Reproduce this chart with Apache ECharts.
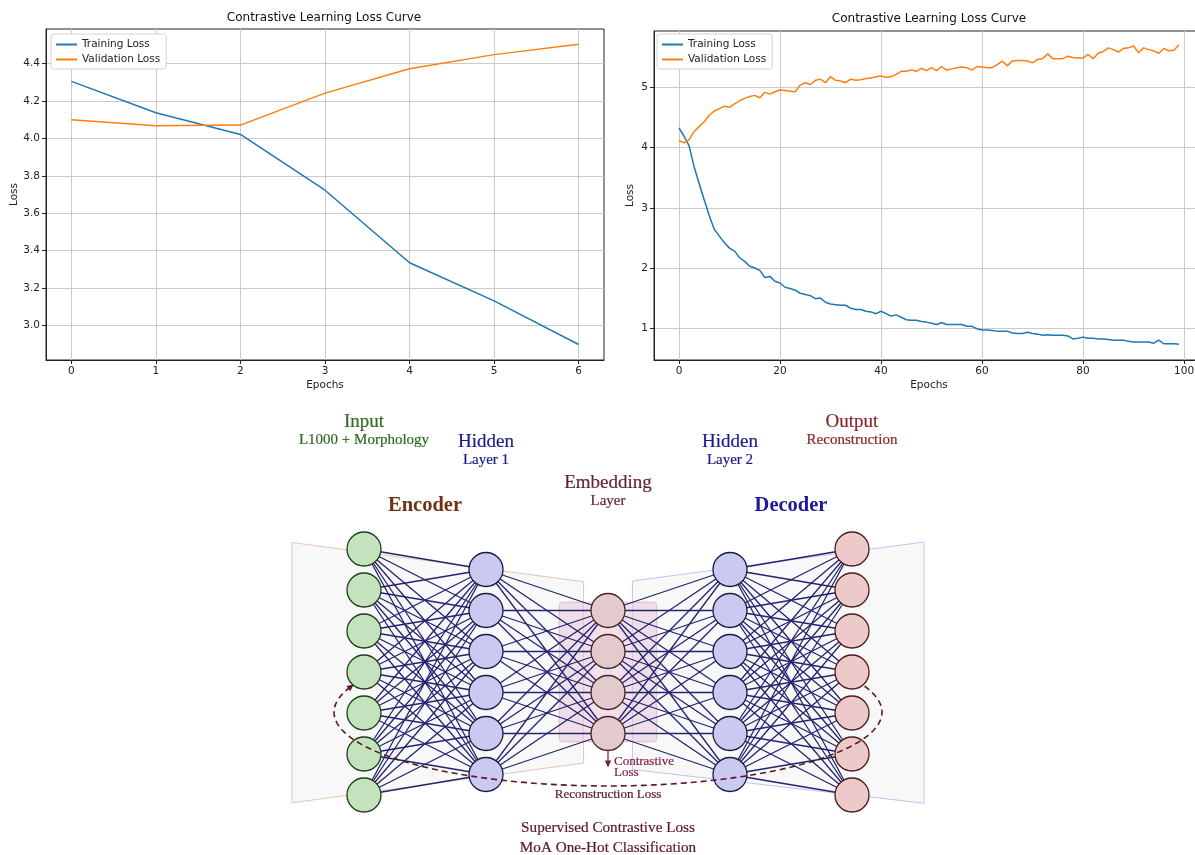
<!DOCTYPE html>
<html>
<head>
<meta charset="utf-8">
<title>Contrastive Learning Loss Curve</title>
<script src="https://cdn.jsdelivr.net/npm/echarts@6/dist/echarts.min.js"></script>
<style>
  html, body { margin: 0; padding: 0; background: #fff; }
  #chart { width: 1195px; height: 855px; }
</style>
</head>
<body>
<div id="chart"></div>
<script>
// short run (7 epochs)
const shortEpochs = [0, 1, 2, 3, 4, 5, 6];
const shortTrain = [4.305, 4.137, 4.021, 3.723, 3.335, 3.131, 2.898];
const shortVal = [4.100, 4.068, 4.071, 4.242, 4.372, 4.448, 4.504];
const shortTicksX = [0, 1, 2, 3, 4, 5, 6];
const shortTicksY = [3.0, 3.2, 3.4, 3.6, 3.8, 4.0, 4.2, 4.4];

// long run (100 epochs, index = epoch)
const longTrain = [
  4.33, 4.19, 4.03, 3.68, 3.40, 3.13, 2.87, 2.64, 2.53, 2.42,
  2.33, 2.28, 2.17, 2.11, 2.03, 2.00, 1.96, 1.84, 1.86, 1.78,
  1.75, 1.68, 1.66, 1.63, 1.58, 1.56, 1.54, 1.49, 1.50, 1.43,
  1.40, 1.39, 1.38, 1.38, 1.33, 1.31, 1.31, 1.28, 1.27, 1.24,
  1.28, 1.24, 1.20, 1.22, 1.18, 1.14, 1.13, 1.13, 1.11, 1.10,
  1.08, 1.06, 1.09, 1.06, 1.06, 1.06, 1.06, 1.03, 1.03, 0.99,
  0.97, 0.97, 0.96, 0.95, 0.95, 0.95, 0.92, 0.91, 0.91, 0.93,
  0.91, 0.90, 0.88, 0.89, 0.88, 0.88, 0.88, 0.87, 0.82, 0.83,
  0.85, 0.83, 0.83, 0.82, 0.82, 0.81, 0.80, 0.80, 0.80, 0.78,
  0.77, 0.77, 0.77, 0.77, 0.75, 0.80, 0.74, 0.74, 0.74, 0.73
];
const longVal = [
  4.12, 4.08, 4.13, 4.27, 4.35, 4.43, 4.54, 4.61, 4.65, 4.69,
  4.67, 4.73, 4.78, 4.82, 4.85, 4.87, 4.83, 4.92, 4.89, 4.93,
  4.96, 4.95, 4.94, 4.93, 5.04, 5.08, 5.05, 5.12, 5.14, 5.08,
  5.18, 5.12, 5.11, 5.08, 5.14, 5.12, 5.13, 5.15, 5.16, 5.18,
  5.19, 5.17, 5.18, 5.22, 5.27, 5.27, 5.29, 5.27, 5.32, 5.28,
  5.33, 5.28, 5.35, 5.29, 5.31, 5.33, 5.34, 5.33, 5.29, 5.35,
  5.34, 5.33, 5.33, 5.38, 5.44, 5.36, 5.44, 5.45, 5.45, 5.44,
  5.41, 5.47, 5.48, 5.56, 5.48, 5.48, 5.48, 5.52, 5.50, 5.49,
  5.49, 5.55, 5.48, 5.57, 5.60, 5.66, 5.63, 5.59, 5.65, 5.66,
  5.69, 5.58, 5.66, 5.63, 5.61, 5.57, 5.65, 5.61, 5.62, 5.71
];
const longTicksX = [0, 20, 40, 60, 80, 100];
const longTicksY = [1, 2, 3, 4, 5];

// autoencoder diagram
const layerTitles = ['Input', 'Hidden', 'Embedding', 'Hidden', 'Output'];
const layerSubtitles = ['L1000 + Morphology', 'Layer 1', 'Layer', 'Layer 2', 'Reconstruction'];
const layerSizes = [7, 6, 4, 6, 7];
const blockNames = ['Encoder', 'Decoder'];
const lossNotes = ['Contrastive\nLoss', 'Reconstruction Loss'];
const footerLines = ['Supervised Contrastive Loss', 'MoA One-Hot Classification'];

const BLUE = '#1f77b4', ORANGE = '#ff7f0e';
const SANS = 'DejaVu Sans', SERIF = 'Liberation Serif';
const nodeFill = ['#c3e2bd', '#c9c9f1', '#e2cace', '#c9c9f1', '#edcaca'];
const nodeStroke = ['#1f3f1b', '#1a1a48', '#472325', '#1a1a48', '#4a1c1c'];
const titleColor = ['#2e6b1e', '#1a1a8c', '#642236', '#1a1a8c', '#872626'];
const lossColor = '#5a1824';

const chart = echarts.init(document.getElementById('chart'));

function plotAxis(grid, ticks, fmt, extra) {
  return Object.assign({
    gridIndex: grid, type: 'value',
    axisLine: { show: true, onZero: false, lineStyle: { color: '#222', width: 1 } },
    axisTick: { show: true, length: 4, customValues: ticks, lineStyle: { color: '#222' } },
    axisLabel: { color: '#222', fontSize: 10.5, fontFamily: SANS, margin: 6, customValues: ticks, formatter: fmt },
    splitLine: { show: true, lineStyle: { color: '#cbcbcb', width: 1 } },
    nameTextStyle: { color: '#222', fontSize: 10.5, fontFamily: SANS }
  }, extra);
}

function lineSeries(name, data, color, axis) {
  return {
    name, type: 'line', data, xAxisIndex: axis, yAxisIndex: axis,
    showSymbol: false, symbol: 'none', color,
    lineStyle: { color, width: 1.5 }, z: 3
  };
}

function legendBox(left) {
  return {
    left, top: 34, orient: 'vertical', selectedMode: false,
    icon: 'rect', itemWidth: 21, itemHeight: 2, itemGap: 4,
    padding: [5, 6, 4, 5],
    backgroundColor: '#fff', borderColor: '#d4d4d4', borderWidth: 1, borderRadius: 3,
    textStyle: { color: '#222', fontSize: 10.5, fontFamily: SANS },
    data: ['Training Loss', 'Validation Loss']
  };
}

// diagram nodes & edges
const slot = (i, j) => j - (layerSizes[i] - 1) / 2;
const nodes = [];
layerSizes.forEach((n, i) => {
  for (let j = 0; j < n; j++) {
    nodes.push({ value: [i, slot(i, j)], itemStyle: { color: nodeFill[i], borderColor: nodeStroke[i] } });
  }
});
const edges = [];
for (let i = 0; i < layerSizes.length - 1; i++) {
  for (let a = 0; a < layerSizes[i]; a++) {
    for (let b = 0; b < layerSizes[i + 1]; b++) {
      edges.push([i, slot(i, a), i + 1, slot(i + 1, b)]);
    }
  }
}

function txt(text, size, color, extra) {
  return Object.assign({
    formatter: text, fontSize: size, color, opacity: 1,
    textBorderColor: color, textBorderWidth: 0.2
  }, extra);
}

const texts = [];
layerTitles.forEach((t, i) => {
  const top = slot(i, 0);
  texts.push({ value: [i, top - 3.1], label: txt(t, 19, titleColor[i]) });
  texts.push({ value: [i, top - 2.66], label: txt(layerSubtitles[i], 15, titleColor[i]) });
});
texts.push({ value: [0.5, -4.05], label: txt(blockNames[0], 20.5, '#6e3515', { fontWeight: 'bold', textBorderWidth: 0 }) });
texts.push({ value: [3.5, -4.05], label: txt(blockNames[1], 20.5, '#1a1a99', { fontWeight: 'bold', textBorderWidth: 0 }) });
texts.push({ value: [2.049, 2.33], label: txt(lossNotes[0], 13, '#842046', { lineHeight: 11, align: 'left' }) });
texts.push({ value: [2, 3.0], label: txt(lossNotes[1], 13, lossColor) });
footerLines.forEach((t, k) => {
  texts.push({ value: [2, 3.8 + k * 0.49], label: txt(t, 15.2, lossColor) });
});

function renderBackdrop(params, api) {
  const poly = (pts, stroke) => ({
    type: 'polygon',
    shape: { points: pts.map(p => api.coord(p)) },
    style: { fill: '#f8f8f8', stroke, lineWidth: 1 }
  });
  const p1 = api.coord([1.6, -1.7]), p2 = api.coord([2.4, 1.7]);
  return {
    type: 'group', children: [
      poly([[-0.59, -3.16], [1.8, -2.2], [1.8, 2.22], [-0.59, 3.19]], '#e6c4b2'),
      poly([[2.2, -2.22], [4.59, -3.17], [4.59, 3.2], [2.2, 2.38]], '#c2c2f2'),
      {
        type: 'rect',
        shape: { x: p1[0], y: p1[1], width: p2[0] - p1[0], height: p2[1] - p1[1], r: 3 },
        style: { fill: 'rgba(232,200,218,0.55)', stroke: '#e2bcd0', lineWidth: 1 }
      }
    ]
  };
}

function renderEdge(params, api) {
  const a = api.coord([api.value(0), api.value(1)]);
  const b = api.coord([api.value(2), api.value(3)]);
  return {
    type: 'line', shape: { x1: a[0], y1: a[1], x2: b[0], y2: b[1] },
    style: { stroke: '#232370', lineWidth: 1.3 }
  };
}

function renderLosses(params, api) {
  const c = api.coord([2, 0.98]);
  const sz = api.size([2.246, 1.8]);
  const rx = Math.abs(sz[0]), ry = Math.abs(sz[1]);
  const a0 = -20.6 * Math.PI / 180, a1 = 200.6 * Math.PI / 180;
  const pts = [];
  for (let k = 0; k <= 90; k++) {
    const t = a0 + (a1 - a0) * k / 90;
    pts.push([c[0] + rx * Math.cos(t), c[1] + ry * Math.sin(t)]);
  }
  const end = pts[pts.length - 1];
  let dx = -rx * Math.sin(a1), dy = ry * Math.cos(a1);
  const len = Math.hypot(dx, dy); dx /= len; dy /= len;
  const tip = [end[0] + dx * 3, end[1] + dy * 3];
  const head = (t, ux, uy) => [t,
    [t[0] - ux * 7 - uy * 3.2, t[1] - uy * 7 + ux * 3.2],
    [t[0] - ux * 7 + uy * 3.2, t[1] - uy * 7 - ux * 3.2]];
  const nb = api.coord([2, 1.5]);
  const r = 17;
  const cTip = [nb[0], nb[1] + r + 17];
  return {
    type: 'group', children: [
      { type: 'polyline', shape: { points: pts }, style: { stroke: lossColor, lineWidth: 1.6, lineDash: [6, 4], fill: null } },
      { type: 'polygon', shape: { points: head(tip, dx, dy) }, style: { fill: lossColor } },
      { type: 'line', shape: { x1: nb[0], y1: nb[1] + r, x2: nb[0], y2: cTip[1] - 4 }, style: { stroke: '#7a1e3a', lineWidth: 1.2 } },
      { type: 'polygon', shape: { points: head(cTip, 0, 1) }, style: { fill: '#7a1e3a' } }
    ]
  };
}

const option = {
  animation: false,
  backgroundColor: '#fff',
  graphic: [
    { type: 'text', x: 324, y: 18, style: { text: 'Contrastive Learning Loss Curve', font: '12px "DejaVu Sans"', fill: '#111', align: 'center', verticalAlign: 'middle' } },
    { type: 'text', x: 929, y: 19, style: { text: 'Contrastive Learning Loss Curve', font: '12px "DejaVu Sans"', fill: '#111', align: 'center', verticalAlign: 'middle' } }
  ],
  legend: [legendBox(51), legendBox(657)],
  grid: [
    { left: 46, top: 29, width: 558, height: 331, show: true, borderColor: '#222', borderWidth: 1, outerBoundsMode: 'none' },
    { left: 654, top: 31, width: 550, height: 329, show: true, borderColor: '#222', borderWidth: 1, outerBoundsMode: 'none' },
    { left: 242, top: 364.5, width: 732, height: 492, outerBoundsMode: 'none' }
  ],
  xAxis: [
    plotAxis(0, shortTicksX, v => String(v), { min: -0.3, max: 6.3, name: 'Epochs', nameLocation: 'middle', nameGap: 20 }),
    plotAxis(1, longTicksX, v => String(v), { min: -4.95, max: 103.95, name: 'Epochs', nameLocation: 'middle', nameGap: 20 }),
    { gridIndex: 2, type: 'value', min: -1, max: 5, show: false }
  ],
  yAxis: [
    plotAxis(0, shortTicksY, v => v.toFixed(1), { min: 2.815, max: 4.585, name: 'Loss', nameLocation: 'middle', nameGap: 26 }),
    plotAxis(1, longTicksY, v => String(v), { min: 0.47, max: 5.94, name: 'Loss', nameLocation: 'middle', nameGap: 18 }),
    { gridIndex: 2, type: 'value', min: -7.5, max: 4.5, inverse: true, show: false }
  ],
  series: [
    lineSeries('Training Loss', shortEpochs.map((e, k) => [e, shortTrain[k]]), BLUE, 0),
    lineSeries('Validation Loss', shortEpochs.map((e, k) => [e, shortVal[k]]), ORANGE, 0),
    lineSeries('Training Loss', longTrain.map((v, k) => [k, v]), BLUE, 1),
    lineSeries('Validation Loss', longVal.map((v, k) => [k, v]), ORANGE, 1),
    { type: 'custom', xAxisIndex: 2, yAxisIndex: 2, data: [[0, 0]], renderItem: renderBackdrop, silent: true, z: 1 },
    { type: 'custom', xAxisIndex: 2, yAxisIndex: 2, data: edges, renderItem: renderEdge, silent: true, z: 2 },
    {
      type: 'scatter', xAxisIndex: 2, yAxisIndex: 2, data: nodes, symbolSize: 34, silent: true, z: 3,
      itemStyle: { borderWidth: 1.3, opacity: 1 }
    },
    { type: 'custom', xAxisIndex: 2, yAxisIndex: 2, data: [[0, 0]], renderItem: renderLosses, silent: true, z: 4 },
    {
      type: 'scatter', xAxisIndex: 2, yAxisIndex: 2, data: texts, symbolSize: 1, silent: true, z: 5,
      itemStyle: { color: 'rgba(0,0,0,0)' },
      label: { show: true, position: 'inside', fontFamily: SERIF }
    }
  ]
};
chart.setOption(option);
</script>
</body>
</html>
